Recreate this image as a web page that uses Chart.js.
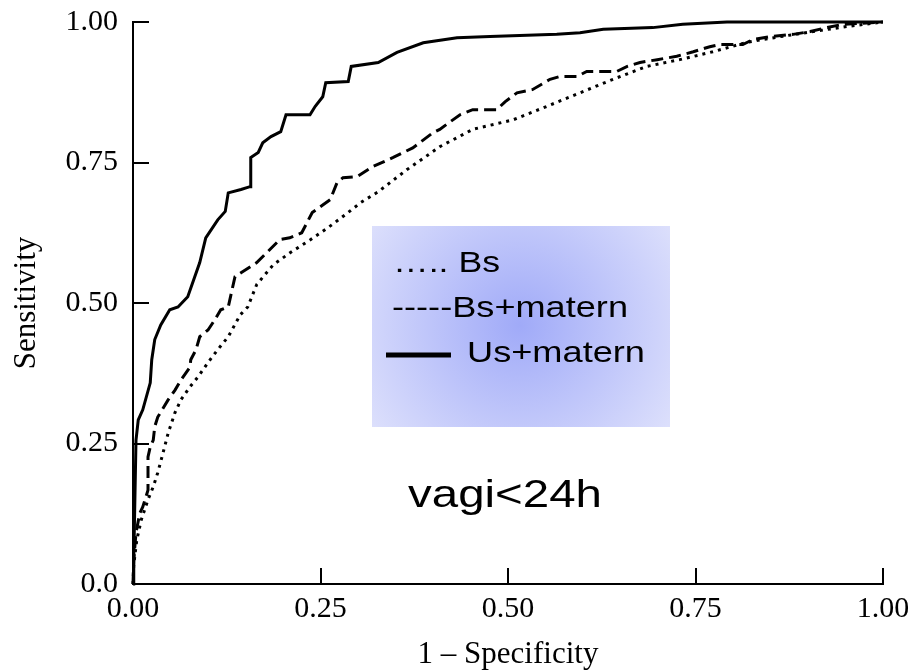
<!DOCTYPE html>
<html>
<head>
<meta charset="utf-8">
<script src="https://cdn.jsdelivr.net/npm/chart.js@4"></script>
<style>
  html, body { margin: 0; padding: 0; background: #fff; }
</style>
</head>
<body>
<canvas id="roc" width="908" height="670"></canvas>
<script>
// Axis ticks
var tickValues = [0, 0.25, 0.5, 0.75, 1];
var xTickLabels = ["0.00", "0.25", "0.50", "0.75", "1.00"];
var yTickLabels = ["0.0", "0.25", "0.50", "0.75", "1.00"];

// Us+matern (solid)
var usX = [0, 0.001, 0.003, 0.004, 0.007, 0.013, 0.023, 0.025, 0.029, 0.037, 0.049, 0.060, 0.073, 0.089, 0.097, 0.113, 0.123, 0.127, 0.144, 0.156, 0.157, 0.167, 0.173, 0.184, 0.197, 0.204, 0.236, 0.243, 0.253, 0.257, 0.287, 0.291, 0.327, 0.352, 0.387, 0.432, 0.476, 0.565, 0.596, 0.627, 0.693, 0.733, 0.792, 1];
var usY = [0, 0.043, 0.185, 0.256, 0.292, 0.310, 0.358, 0.399, 0.435, 0.461, 0.488, 0.493, 0.511, 0.572, 0.616, 0.648, 0.663, 0.696, 0.702, 0.707, 0.759, 0.768, 0.785, 0.796, 0.805, 0.835, 0.835, 0.850, 0.867, 0.892, 0.894, 0.921, 0.928, 0.946, 0.963, 0.972, 0.974, 0.978, 0.981, 0.987, 0.990, 0.996, 1, 1];

// Bs+matern (dashed)
var bsmX = [0, 0.001, 0.004, 0.009, 0.013, 0.02, 0.02, 0.023, 0.027, 0.029, 0.033, 0.047, 0.056, 0.064, 0.076, 0.077, 0.084, 0.089, 0.1, 0.109, 0.117, 0.127, 0.136, 0.144, 0.165, 0.196, 0.209, 0.225, 0.239, 0.263, 0.272, 0.28, 0.299, 0.32, 0.347, 0.373, 0.4, 0.409, 0.436, 0.453, 0.485, 0.496, 0.512, 0.533, 0.556, 0.569, 0.592, 0.605, 0.645, 0.659, 0.676, 0.699, 0.725, 0.747, 0.769, 0.783, 0.813, 0.827, 0.849, 0.88, 0.903, 0.925, 0.947, 1];
var bsmY = [0, 0.043, 0.091, 0.126, 0.137, 0.167, 0.226, 0.244, 0.256, 0.280, 0.297, 0.328, 0.345, 0.363, 0.386, 0.399, 0.417, 0.440, 0.452, 0.470, 0.488, 0.493, 0.547, 0.554, 0.572, 0.613, 0.616, 0.625, 0.661, 0.684, 0.714, 0.723, 0.725, 0.743, 0.759, 0.776, 0.803, 0.809, 0.835, 0.844, 0.844, 0.858, 0.874, 0.880, 0.898, 0.903, 0.903, 0.912, 0.912, 0.921, 0.928, 0.933, 0.939, 0.947, 0.956, 0.96, 0.96, 0.969, 0.974, 0.978, 0.983, 0.99, 0.996, 1];

// Bs (dotted)
var bsX = [0, 0.001, 0.005, 0.011, 0.02, 0.027, 0.033, 0.04, 0.047, 0.056, 0.064, 0.076, 0.087, 0.1, 0.113, 0.127, 0.143, 0.153, 0.165, 0.187, 0.209, 0.237, 0.26, 0.283, 0.304, 0.327, 0.365, 0.409, 0.453, 0.507, 0.552, 0.596, 0.64, 0.685, 0.729, 0.773, 0.819, 0.863, 0.907, 0.952, 1];
var bsY = [0, 0.034, 0.078, 0.114, 0.15, 0.173, 0.198, 0.233, 0.269, 0.305, 0.328, 0.351, 0.369, 0.394, 0.417, 0.44, 0.479, 0.493, 0.533, 0.568, 0.589, 0.613, 0.634, 0.657, 0.679, 0.698, 0.737, 0.778, 0.809, 0.826, 0.85, 0.874, 0.898, 0.921, 0.933, 0.947, 0.964, 0.974, 0.983, 0.992, 1];

function toPoints(xs, ys) {
   return xs.map(function (x, i) { return { x: x, y: ys[i] }; });
}

var serif = "'Liberation Serif', 'Times New Roman', serif";
var sans = "'Liberation Sans', Arial, sans-serif";

// draws text stretched to a given width (the original text is wide)
function wideText(ctx, text, left, baseline, size, width) {
   ctx.font = size + "px " + sans;
   var w = ctx.measureText(text).width;
   ctx.save();
   ctx.translate(left, baseline);
   ctx.scale(width / w, 1);
   ctx.fillText(text, 0, 0);
   ctx.restore();
}

// legend box and the "vagi<24h" note
var overlay = {
   id: "overlay",
   afterDatasetsDraw: function (chart) {
      var ctx = chart.ctx;
      ctx.save();
      var g = ctx.createRadialGradient(520, 325, 0, 520, 325, 185);
      g.addColorStop(0, "rgb(160,170,248)");
      g.addColorStop(1, "rgb(222,225,252)");
      ctx.fillStyle = g;
      ctx.fillRect(372, 226, 298, 201);

      ctx.fillStyle = "#000";
      ctx.textBaseline = "alphabetic";
      wideText(ctx, "….. Bs", 393, 272, 29, 107);
      wideText(ctx, "-----Bs+matern", 392, 317, 29, 236);
      ctx.lineWidth = 5;
      ctx.strokeStyle = "#000";
      ctx.beginPath();
      ctx.moveTo(386, 355);
      ctx.lineTo(451, 355);
      ctx.stroke();
      wideText(ctx, "Us+matern", 467, 362, 29, 178);

      wideText(ctx, "vagi<24h", 408, 507, 39, 194);
      ctx.restore();
   },
};

Chart.defaults.font.family = serif;
Chart.defaults.color = "#000";

var rocChart = new Chart(document.getElementById("roc").getContext("2d"), {
   type: "line",
   data: {
      datasets: [
         {
            label: "Bs",
            data: toPoints(bsX, bsY),
            borderColor: "#000",
            borderWidth: 3,
            borderDash: [3, 5],
         },
         {
            label: "Bs+matern",
            data: toPoints(bsmX, bsmY),
            borderColor: "#000",
            borderWidth: 3,
            borderDash: [12, 6],
         },
         {
            label: "Us+matern",
            data: toPoints(usX, usY),
            borderColor: "#000",
            borderWidth: 3,
         },
      ],
   },
   options: {
      responsive: false,
      animation: false,
      devicePixelRatio: 1,
      clip: false,
      elements: { point: { radius: 0 }, line: { tension: 0 } },
      layout: { padding: { top: 22, right: 25, left: 0, bottom: 0 } },
      plugins: { legend: { display: false }, tooltip: { enabled: false } },
      scales: {
         x: {
            type: "linear",
            min: 0,
            max: 1,
            afterBuildTicks: function (s) {
               s.ticks = tickValues.map(function (v) { return { value: v }; });
            },
            afterFit: function (s) {
               s.height = 86;
               s.paddingLeft = 0;
               s.paddingRight = 0;
            },
            ticks: {
               font: { size: 30 },
               padding: 23,
               maxRotation: 0,
               callback: function (v, i) { return xTickLabels[i]; },
            },
            grid: { drawOnChartArea: false, tickLength: -16, lineWidth: 2, color: "#000" },
            border: { display: true, color: "#000", width: 2 },
            title: {
               display: true,
               text: "1 – Specificity",
               font: { size: 31, lineHeight: 1 },
               padding: { top: 0, bottom: 0 },
            },
         },
         y: {
            type: "linear",
            min: 0,
            max: 1,
            afterBuildTicks: function (s) {
               s.ticks = tickValues.map(function (v) { return { value: v }; });
            },
            afterFit: function (s) {
               s.width = 133;
               s.paddingTop = 0;
               s.paddingBottom = 0;
            },
            ticks: {
               font: { size: 30 },
               padding: 31,
               callback: function (v, i) { return yTickLabels[i]; },
            },
            grid: { drawOnChartArea: false, tickLength: -16, lineWidth: 2, color: "#000" },
            border: { display: true, color: "#000", width: 2 },
            title: {
               display: true,
               text: "Sensitivity",
               font: { size: 31, lineHeight: 1 },
               padding: { top: 11, bottom: 0 },
            },
         },
      },
   },
   plugins: [overlay],
});
</script>
</body>
</html>
